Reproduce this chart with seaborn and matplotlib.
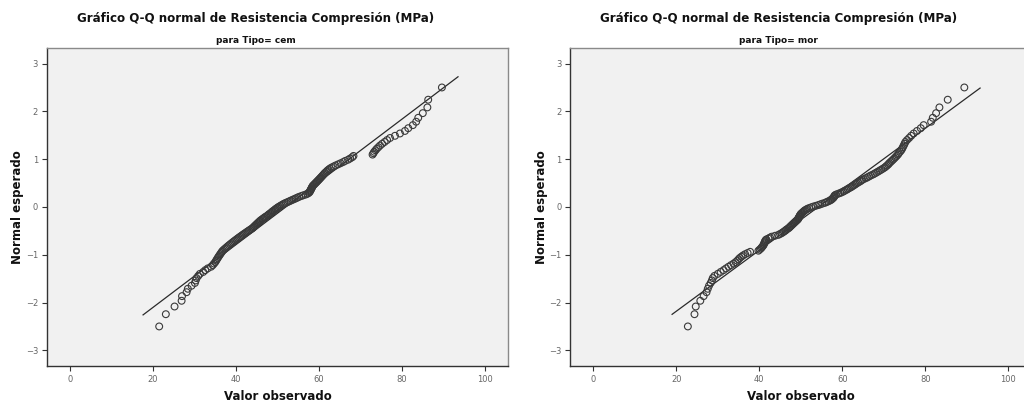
import numpy as np
import pandas as pd
import matplotlib
matplotlib.use("Agg")
import matplotlib.pyplot as plt
import seaborn as sns
from statistics import NormalDist

# observed compressive strength (MPa), sorted, one list per group
cem_values = [
    21.5, 23.1, 25.2, 26.9, 27.0, 28.1, 28.4, 29.3, 30.1, 30.3,
    30.5, 30.9, 31.3, 32.1, 32.6, 33.2, 34.0, 34.4, 34.7, 35.0,
    35.2, 35.4, 35.6, 35.8, 36.0, 36.2, 36.4, 36.6, 36.8, 37.1,
    37.4, 37.7, 38.0, 38.3, 38.6, 38.9, 39.2, 39.5, 39.8, 40.1,
    40.4, 40.7, 41.0, 41.3, 41.6, 41.9, 42.2, 42.5, 42.8, 43.1,
    43.4, 43.7, 44.0, 44.2, 44.4, 44.6, 44.8, 45.0, 45.2, 45.4,
    45.6, 45.8, 46.0, 46.3, 46.5, 46.8, 47.0, 47.3, 47.6, 47.8,
    48.0, 48.3, 48.5, 48.7, 48.9, 49.2, 49.4, 49.6, 49.9, 50.1,
    50.4, 50.7, 51.0, 51.3, 51.6, 52.0, 52.4, 52.8, 53.2, 53.6,
    54.0, 54.4, 54.8, 55.2, 55.7, 56.2, 56.8, 57.2, 57.5, 57.7,
    57.8, 57.9, 58.0, 58.1, 58.2, 58.3, 58.4, 58.5, 58.7, 58.9,
    59.1, 59.3, 59.5, 59.7, 59.9, 60.1, 60.3, 60.5, 60.7, 60.9,
    61.1, 61.3, 61.5, 61.8, 62.0, 62.3, 62.6, 63.0, 63.5, 64.0,
    64.6, 65.2, 65.8, 66.3, 67.0, 67.5, 68.0, 68.3, 72.9, 73.1,
    73.3, 73.6, 73.9, 74.3, 74.7, 75.2, 75.8, 76.4, 77.1, 78.3,
    79.5, 80.7, 81.5, 82.6, 83.4, 83.9, 85.0, 86.1, 86.3, 89.6,
]

mor_values = [
    22.8, 24.4, 24.7, 25.8, 26.6, 27.3, 27.6, 27.9, 28.3, 28.6,
    28.8, 29.2, 30.0, 30.7, 31.4, 32.0, 32.6, 33.2, 33.8, 34.3,
    34.7, 35.0, 35.3, 35.7, 36.1, 36.6, 37.2, 37.8, 39.8, 40.1,
    40.4, 40.6, 40.8, 41.0, 41.1, 41.2, 41.3, 41.4, 41.5, 41.7,
    42.2, 42.6, 43.0, 43.8, 44.6, 45.0, 45.4, 45.7, 46.0, 46.3,
    46.5, 46.8, 47.1, 47.3, 47.5, 47.7, 47.9, 48.1, 48.3, 48.5,
    48.7, 48.9, 49.1, 49.3, 49.4, 49.5, 49.6, 49.7, 49.8, 49.9,
    50.0, 50.2, 50.4, 50.6, 50.8, 51.0, 51.3, 51.6, 52.0, 52.5,
    53.0, 53.6, 54.2, 54.7, 55.2, 55.8, 56.2, 56.6, 57.0, 57.3,
    57.5, 57.7, 57.9, 58.0, 58.1, 58.2, 58.5, 59.0, 59.5, 59.9,
    60.3, 60.6, 61.0, 61.3, 61.6, 62.0, 62.3, 62.6, 62.9, 63.2,
    63.5, 63.8, 64.2, 64.5, 64.8, 65.2, 65.7, 66.1, 66.5, 66.9,
    67.4, 67.8, 68.2, 68.6, 69.0, 69.4, 69.8, 70.2, 70.5, 70.8,
    71.1, 71.3, 71.6, 71.9, 72.2, 72.5, 72.8, 73.1, 73.4, 73.6,
    73.9, 74.2, 74.4, 74.6, 74.8, 75.0, 75.2, 75.6, 76.1, 76.6,
    77.2, 78.0, 78.9, 79.6, 81.4, 81.8, 82.6, 83.4, 85.4, 89.4,
]

groups = ["cem", "mor"]
group_values = [cem_values, mor_values]

main_title = "Gráfico Q-Q normal de Resistencia Compresión (MPa)"
x_label = "Valor observado"
y_label = "Normal esperado"
x_ticks = [0, 20, 40, 60, 80, 100]
y_ticks = [-3, -2, -1, 0, 1, 2, 3]


def qq_frame(values):
    """Observed values against expected normal scores (rank / (n + 1))."""
    s = pd.Series(values, dtype=float)
    ranks = s.rank(method="average")
    n = len(s)
    nd = NormalDist()
    expected = [nd.inv_cdf(r / (n + 1)) for r in ranks]
    return pd.DataFrame({"observed": s, "expected": expected})


def ref_line(values):
    s = pd.Series(values, dtype=float)
    mu, sd = s.mean(), s.std()
    pad = 0.057 * (s.max() - s.min())
    xs = [s.min() - pad, s.max() + pad]
    return pd.DataFrame({"observed": xs, "expected": [(x - mu) / sd for x in xs]})


fig = plt.figure(figsize=(10.24, 4.05), dpi=100)
fig.patch.set_facecolor("white")

axes_left = [0.046, 0.557]
title_x = [0.25, 0.76]

for k, (grp, vals) in enumerate(zip(groups, group_values)):
    ax = fig.add_axes([axes_left[k], 0.096, 0.450, 0.786])
    ax.set_facecolor("#f1f1f1")

    df = qq_frame(vals)
    line = ref_line(vals)

    sns.lineplot(data=line, x="observed", y="expected", ax=ax,
                 color="#2a2a2a", linewidth=0.9, zorder=2)
    sns.scatterplot(data=df, x="observed", y="expected", ax=ax,
                    marker="o", s=24, facecolor="none",
                    edgecolor="#3a3a3a", linewidth=0.8, zorder=3)

    ax.set_xlim(-5.5, 105.5)
    ax.set_ylim(-3.33, 3.33)
    ax.set_xticks(x_ticks)
    ax.set_yticks(y_ticks)
    ax.tick_params(labelsize=6, colors="#333333", length=3.5, width=0.8,
                   labelcolor="#666666", pad=3)
    ax.set_xlabel(x_label, fontsize=8.5, fontweight="bold", labelpad=4,
                  color="#111111")
    ax.set_ylabel(y_label, fontsize=8.5, fontweight="bold", labelpad=1,
                  color="#111111")

    for side in ["left", "bottom"]:
        ax.spines[side].set_color("#333333")
        ax.spines[side].set_linewidth(1.0)
    for side in ["top", "right"]:
        ax.spines[side].set_color("#8a8a8a")
        ax.spines[side].set_linewidth(1.0)

    fig.text(title_x[k], 0.955, main_title, ha="center", va="center",
             fontsize=8.6, fontweight="bold", color="#111111")
    fig.text(title_x[k], 0.900, "para Tipo= " + grp, ha="center", va="center",
             fontsize=6.5, fontweight="bold", color="#111111")

fig.savefig("out.png", dpi=100, facecolor="white")
